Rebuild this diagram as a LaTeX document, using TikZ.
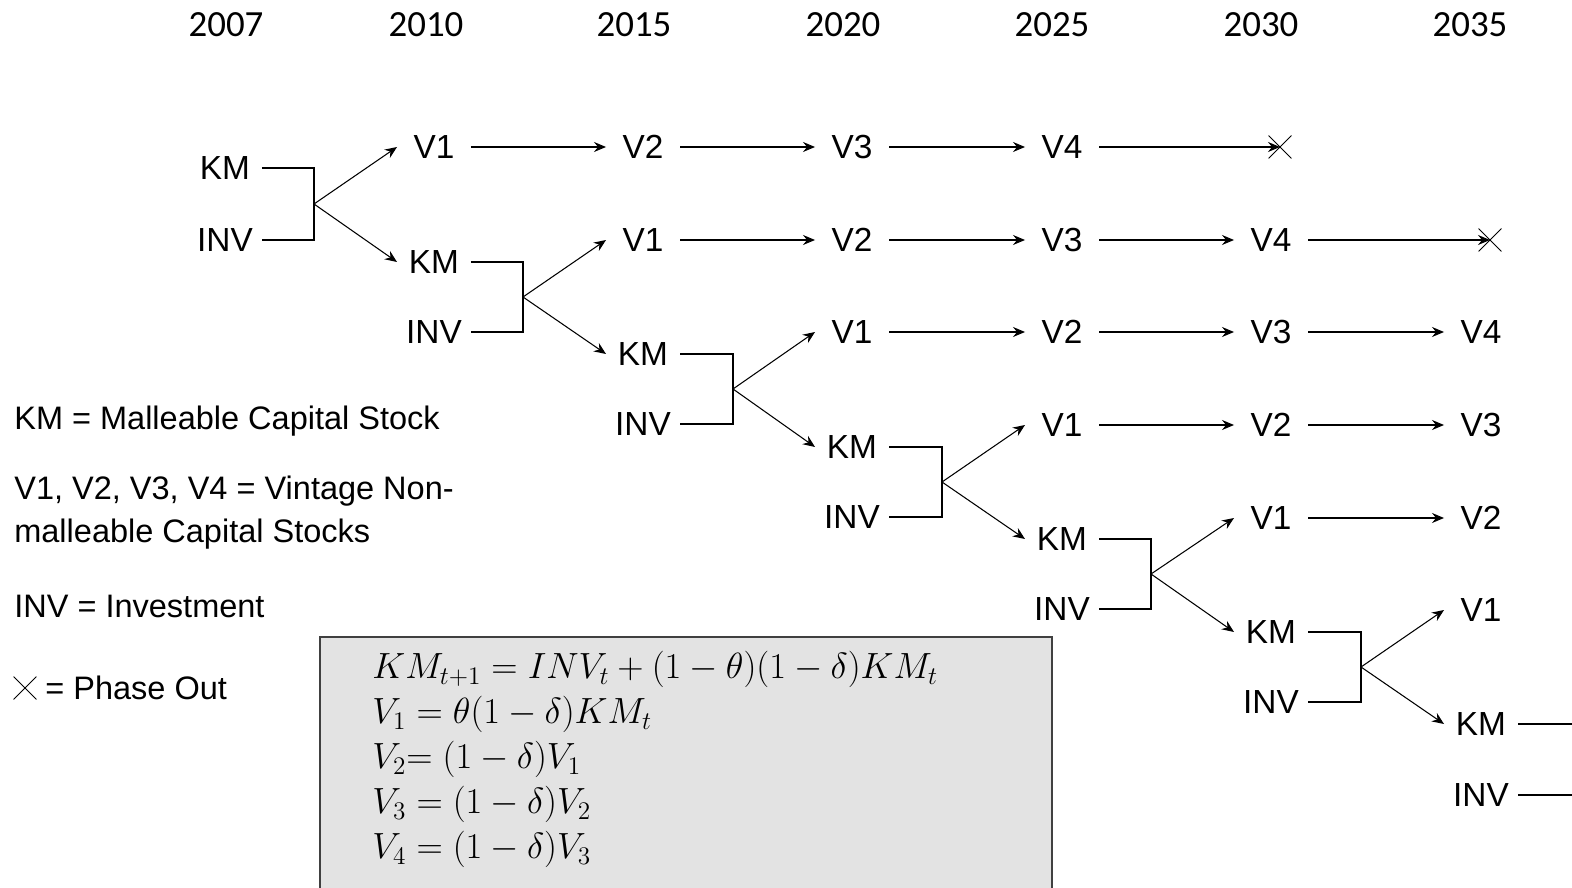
\documentclass[tikz,border=0pt]{standalone}
\usepackage{fontspec}
\newfontfamily\arialfont{Liberation Sans}
\newfontfamily\calfont{Carlito}
\usetikzlibrary{arrows.meta, shapes.misc}
\usepackage{xcolor}
\definecolor{boxgray}{RGB}{227,227,227}
\definecolor{boxedge}{RGB}{64,64,64}

\begin{document}
\begin{tikzpicture}[x=0.02cm, y=-0.02cm,
  stock/.style={font=\arialfont\fontsize{19}{22}\selectfont,
                inner sep=0pt, outer sep=0pt, minimum width=1.48cm},
  year/.style={font=\calfont\fontsize{21}{24}\selectfont, inner sep=0pt},
  legend/.style={font=\arialfont\fontsize{18.5}{24.4}\selectfont,
                 inner sep=0pt, anchor=west, align=left},
  arr/.style={-{Stealth[length=2.4mm,width=2mm,inset=0.8mm]}, line width=0.6pt},
  brk/.style={line width=0.6pt},
  phase/.style={draw, cross out, minimum size=0.44cm, inner sep=0pt, line width=0.5pt}
]
\useasboundingbox (0,0) rectangle (1572,888);
\clip (0,0) rectangle (1572,888);

% ── Years ───────────────────────────────────────────────
\node[year] (y2007) at (226,25) {2007};
\node[year] (y2010) at (426,25) {2010};
\node[year] (y2015) at (634,25) {2015};
\node[year] (y2020) at (843,25) {2020};
\node[year] (y2025) at (1052,25) {2025};
\node[year] (y2030) at (1261,25) {2030};
\node[year] (y2035) at (1470,25) {2035};

% ── 2007 ────────────────────────────────────────────────
\node[stock] (km0)  at (225,168) {KM};
\node[stock] (inv0) at (225,240) {INV};
\coordinate (b0) at (314,204);
\draw[brk] (km0.east) -| (b0) |- (inv0.east);

% ── 2010 ────────────────────────────────────────────────
\node[stock] (v0-1) at (434,147) {V1};
\node[stock] (km1)  at (434,262) {KM};
\node[stock] (inv1) at (434,332) {INV};
\coordinate (b1) at (523,297);
\draw[arr] (b0) -- (v0-1.west);
\draw[arr] (b0) -- (km1.west);
\draw[brk] (km1.east) -| (b1) |- (inv1.east);

% ── 2015 ────────────────────────────────────────────────
\node[stock] (v0-2) at (643,147) {V2};
\node[stock] (v1-2) at (643,240) {V1};
\node[stock] (km2)  at (643,354) {KM};
\node[stock] (inv2) at (643,424) {INV};
\coordinate (b2) at (733,389);
\draw[arr] (v0-1) -- (v0-2);
\draw[arr] (b1) -- (v1-2.west);
\draw[arr] (b1) -- (km2.west);
\draw[brk] (km2.east) -| (b2) |- (inv2.east);

% ── 2020 ────────────────────────────────────────────────
\node[stock] (v0-3) at (852,147) {V3};
\node[stock] (v1-3) at (852,240) {V2};
\node[stock] (v2-3) at (852,332) {V1};
\node[stock] (km3)  at (852,447) {KM};
\node[stock] (inv3) at (852,517) {INV};
\coordinate (b3) at (942,482);
\draw[arr] (v0-2) -- (v0-3);
\draw[arr] (v1-2) -- (v1-3);
\draw[arr] (b2) -- (v2-3.west);
\draw[arr] (b2) -- (km3.west);
\draw[brk] (km3.east) -| (b3) |- (inv3.east);

% ── 2025 ────────────────────────────────────────────────
\node[stock] (v0-4) at (1062,147) {V4};
\node[stock] (v1-4) at (1062,240) {V3};
\node[stock] (v2-4) at (1062,332) {V2};
\node[stock] (v3-4) at (1062,425) {V1};
\node[stock] (km4)  at (1062,539) {KM};
\node[stock] (inv4) at (1062,609) {INV};
\coordinate (b4) at (1151,574);
\draw[arr] (v0-3) -- (v0-4);
\draw[arr] (v1-3) -- (v1-4);
\draw[arr] (v2-3) -- (v2-4);
\draw[arr] (b3) -- (v3-4.west);
\draw[arr] (b3) -- (km4.west);
\draw[brk] (km4.east) -| (b4) |- (inv4.east);

% ── 2030 ────────────────────────────────────────────────
\node[phase] (x0) at (1280,147) {};
\node[stock] (v1-5) at (1271,240) {V4};
\node[stock] (v2-5) at (1271,332) {V3};
\node[stock] (v3-5) at (1271,425) {V2};
\node[stock] (v4-5) at (1271,518) {V1};
\node[stock] (km5)  at (1271,632) {KM};
\node[stock] (inv5) at (1271,702) {INV};
\coordinate (b5) at (1361,667);
\draw[arr] (v0-4.east) -- (x0.center);
\draw[arr] (v1-4) -- (v1-5);
\draw[arr] (v2-4) -- (v2-5);
\draw[arr] (v3-4) -- (v3-5);
\draw[arr] (b4) -- (v4-5.west);
\draw[arr] (b4) -- (km5.west);
\draw[brk] (km5.east) -| (b5) |- (inv5.east);

% ── 2035 ────────────────────────────────────────────────
\node[phase] (x1) at (1490,240) {};
\node[stock] (v2-6) at (1481,332) {V4};
\node[stock] (v3-6) at (1481,425) {V3};
\node[stock] (v4-6) at (1481,518) {V2};
\node[stock] (v5-6) at (1481,610) {V1};
\node[stock] (km6)  at (1481,724) {KM};
\node[stock] (inv6) at (1481,795) {INV};
\coordinate (o6a) at (1580,724);
\coordinate (o6b) at (1580,795);
\draw[arr] (v1-5.east) -- (x1.center);
\draw[arr] (v2-5) -- (v2-6);
\draw[arr] (v3-5) -- (v3-6);
\draw[arr] (v4-5) -- (v4-6);
\draw[arr] (b5) -- (v5-6.west);
\draw[arr] (b5) -- (km6.west);
\draw[brk] (km6.east) -- (o6a);
\draw[brk] (inv6.east) -- (o6b);

% ── Legend ──────────────────────────────────────────────
\node[legend] (lkm)  at (14,421) {KM = Malleable Capital Stock};
\node[legend] (lv)   at (14,513) {V1, V2, V3, V4 = Vintage Non-\\malleable Capital Stocks};
\node[legend] (linv) at (14,606) {INV = Investment};
\node[phase]  (xl)   at (25,688) {};
\node[legend] (lx)   at (45,688) {= Phase Out};

% ── Equations ───────────────────────────────────────────
\draw[boxedge, fill=boxgray, line width=1pt] (320,637) rectangle (1052,900);
\node[anchor=north west, inner sep=0pt, align=left,
      font=\fontsize{20.5}{25.6}\selectfont] (eqs) at (372,651)
  {$KM_{t+1} = INV_t + (1-\theta)(1-\delta)KM_t$\\
   $V_1 = \theta(1-\delta)KM_t$\\
   $V_2{=}\;(1-\delta)V_1$\\
   $V_3 = (1-\delta)V_2$\\
   $V_4 = (1-\delta)V_3$};

\end{tikzpicture}
\end{document}
